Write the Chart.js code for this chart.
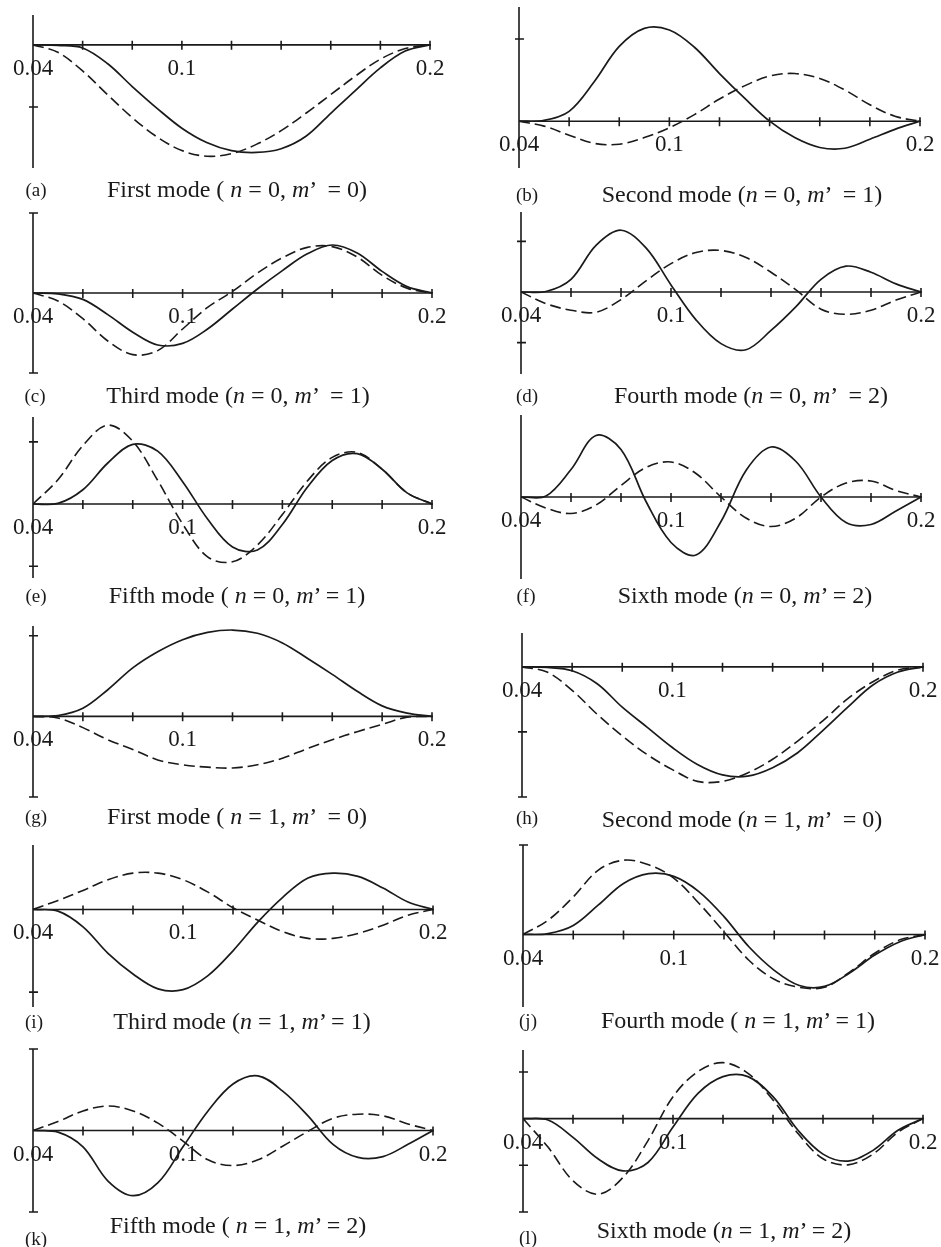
<!DOCTYPE html>
<html>
<head>
<meta charset="utf-8">
<script src="https://cdn.jsdelivr.net/npm/chart.js@4.4.1/dist/chart.umd.min.js"></script>
<style>
body { margin: 0; background: #fff; }
#page { position: relative; width: 941px; height: 1247px; overflow: hidden; font-family: 'Liberation Serif', 'Times New Roman', serif; color: #1a1a1a; }
#page canvas { position: absolute; }
.cap { position: absolute; font-size: 24px; white-space: pre; transform: translate(-50%, -50%); line-height: 1; }
.tag { position: absolute; font-size: 19px; white-space: pre; transform: translate(-50%, -50%); line-height: 1; }
</style>
</head>
<body>
<div id="page"></div>
<script>
// radial position (m) sampled every 0.01
var xValues = [0.04, 0.05, 0.06, 0.07, 0.08, 0.09, 0.10, 0.11, 0.12, 0.13, 0.14, 0.15, 0.16, 0.17, 0.18, 0.19, 0.20];
var xTickValues = [0.04, 0.06, 0.08, 0.10, 0.12, 0.14, 0.16, 0.18, 0.20];
var xTickLabels = ['0.04', '', '', '0.1', '', '', '', '', '0.2'];

// mode shapes: solid and dashed curve of each panel
var solidA  = [0, -0.01, -0.05, -0.3, -0.67, -1.02, -1.34, -1.57, -1.7, -1.73, -1.67, -1.47, -1.1, -0.73, -0.37, -0.1, 0];
var dashedA = [0, -0.12, -0.42, -0.8, -1.17, -1.48, -1.7, -1.79, -1.75, -1.6, -1.38, -1.1, -0.8, -0.5, -0.23, -0.06, 0];
var solidB  = [0, 0.01, 0.12, 0.48, 0.91, 1.13, 1.11, 0.9, 0.58, 0.28, 0.0, -0.2, -0.32, -0.33, -0.22, -0.1, 0];
var dashedB = [0, -0.06, -0.17, -0.27, -0.28, -0.2, -0.08, 0.08, 0.27, 0.43, 0.55, 0.58, 0.52, 0.38, 0.2, 0.06, 0];
var solidC  = [0, -0.01, -0.08, -0.27, -0.49, -0.65, -0.63, -0.45, -0.2, 0.05, 0.28, 0.49, 0.6, 0.5, 0.27, 0.08, 0];
var dashedC = [0, -0.1, -0.32, -0.6, -0.77, -0.72, -0.45, -0.18, 0.02, 0.25, 0.44, 0.57, 0.58, 0.45, 0.22, 0.06, 0];
var solidD  = [0, 0.01, 0.25, 0.92, 1.22, 0.87, 0.14, -0.55, -1.02, -1.14, -0.76, -0.29, 0.25, 0.51, 0.39, 0.16, 0];
var dashedD = [0, -0.23, -0.36, -0.4, -0.15, 0.22, 0.56, 0.78, 0.82, 0.68, 0.39, 0.04, -0.34, -0.44, -0.36, -0.16, 0];
var solidE  = [0, 0.01, 0.23, 0.66, 0.96, 0.85, 0.36, -0.24, -0.69, -0.74, -0.33, 0.27, 0.7, 0.81, 0.56, 0.18, 0];
var dashedE = [0, 0.39, 0.94, 1.27, 1.01, 0.38, -0.32, -0.85, -0.93, -0.66, -0.17, 0.37, 0.75, 0.83, 0.56, 0.18, 0];
var solidF  = [0, 0.02, 0.55, 1.23, 0.95, -0.09, -0.91, -1.16, -0.49, 0.53, 1.0, 0.71, 0.0, -0.51, -0.55, -0.28, 0];
var dashedF = [0, -0.22, -0.33, -0.16, 0.23, 0.59, 0.7, 0.47, 0, -0.42, -0.59, -0.42, 0, 0.28, 0.32, 0.13, 0];
var solidG  = [0, 0.01, 0.1, 0.33, 0.6, 0.8, 0.95, 1.04, 1.07, 1.03, 0.91, 0.72, 0.52, 0.31, 0.13, 0.04, 0];
var dashedG = [0, -0.02, -0.14, -0.29, -0.41, -0.54, -0.6, -0.63, -0.64, -0.6, -0.52, -0.4, -0.29, -0.19, -0.1, -0.01, 0];
var solidH  = [0, -0.01, -0.06, -0.26, -0.62, -0.93, -1.24, -1.5, -1.66, -1.68, -1.55, -1.32, -0.98, -0.62, -0.28, -0.08, 0];
var dashedH = [0, -0.08, -0.36, -0.73, -1.06, -1.35, -1.58, -1.76, -1.76, -1.63, -1.42, -1.14, -0.83, -0.49, -0.23, -0.05, 0];
var solidI  = [0, -0.02, -0.21, -0.53, -0.78, -0.96, -0.97, -0.8, -0.5, -0.15, 0.15, 0.38, 0.44, 0.4, 0.26, 0.09, 0];
var dashedI = [0, 0.11, 0.23, 0.36, 0.44, 0.44, 0.36, 0.21, 0.02, -0.13, -0.27, -0.35, -0.35, -0.29, -0.19, -0.07, 0];
var solidJ  = [0, 0.01, 0.1, 0.33, 0.57, 0.68, 0.65, 0.48, 0.2, -0.14, -0.4, -0.57, -0.58, -0.43, -0.23, -0.08, 0];
var dashedJ = [0, 0.16, 0.42, 0.72, 0.83, 0.78, 0.63, 0.35, 0.03, -0.29, -0.5, -0.59, -0.59, -0.42, -0.21, -0.06, 0];
var solidK  = [0, -0.02, -0.2, -0.62, -0.8, -0.64, -0.2, 0.24, 0.57, 0.67, 0.48, 0.18, -0.17, -0.33, -0.32, -0.17, 0];
var dashedK = [0, 0.11, 0.24, 0.3, 0.24, 0.09, -0.13, -0.36, -0.43, -0.36, -0.19, -0.01, 0.15, 0.2, 0.18, 0.08, 0];
var solidL  = [0, -0.03, -0.4, -0.86, -1.12, -0.94, -0.18, 0.54, 0.9, 0.9, 0.47, -0.25, -0.76, -0.91, -0.68, -0.25, 0];
var dashedL = [0, -0.61, -1.33, -1.62, -1.26, -0.47, 0.47, 1.01, 1.2, 0.97, 0.4, -0.32, -0.86, -0.99, -0.76, -0.29, 0];

var panelTags = ['(a)', '(b)', '(c)', '(d)', '(e)', '(f)', '(g)', '(h)', '(i)', '(j)', '(k)', '(l)'];
var panelTitles = [
    'First mode ( <i>n</i> = 0, <i>m</i>\u2019  = 0)',
    'Second mode (<i>n</i> = 0, <i>m</i>\u2019  = 1)',
    'Third mode (<i>n</i> = 0, <i>m</i>\u2019  = 1)',
    'Fourth mode (<i>n</i> = 0, <i>m</i>\u2019  = 2)',
    'Fifth mode ( <i>n</i> = 0, <i>m</i>\u2019 = 1)',
    'Sixth mode (<i>n</i> = 0, <i>m</i>\u2019 = 2)',
    'First mode ( <i>n</i> = 1, <i>m</i>\u2019  = 0)',
    'Second mode (<i>n</i> = 1, <i>m</i>\u2019  = 0)',
    'Third mode (<i>n</i> = 1, <i>m</i>\u2019 = 1)',
    'Fourth mode ( <i>n</i> = 1, <i>m</i>\u2019 = 1)',
    'Fifth mode ( <i>n</i> = 1, <i>m</i>\u2019 = 2)',
    'Sixth mode (<i>n</i> = 1, <i>m</i>\u2019 = 2)'
];

var ink = '#1a1a1a';
var pad = 40;

// layout of each small plot (plot area box, caption spots)
var panels = [
    {solid: solidA, dashed: dashedA, yMin: -1.98, yMax: 0.48, yTicks: [-1], left: 33, top: 15, w: 397, h: 153, capX: 237, capY: 189, tagX: 36, tagY: 189},
    {solid: solidB, dashed: dashedB, yMin: -0.57, yMax: 1.39, yTicks: [1], left: 519, top: 7, w: 401, h: 161, capX: 742, capY: 194, tagX: 527, tagY: 194},
    {solid: solidC, dashed: dashedC, yMin: -1, yMax: 1, yTicks: [-1, 1], left: 33, top: 213, w: 399, h: 160, capX: 238, capY: 395, tagX: 35, tagY: 395},
    {solid: solidD, dashed: dashedD, yMin: -1.62, yMax: 1.58, yTicks: [-1, 1], left: 521, top: 212, w: 400, h: 162, capX: 751, capY: 395, tagX: 527, tagY: 395},
    {solid: solidE, dashed: dashedE, yMin: -1.19, yMax: 1.4, yTicks: [-1, 1], left: 33, top: 417, w: 399, h: 161, capX: 237, capY: 595, tagX: 36, tagY: 595},
    {solid: solidF, dashed: dashedF, yMin: -1.64, yMax: 1.64, yTicks: [], left: 521, top: 415, w: 400, h: 164, capX: 745, capY: 595, tagX: 526, tagY: 595},
    {solid: solidG, dashed: dashedG, yMin: -1, yMax: 1.12, yTicks: [-1, 1], left: 33, top: 626, w: 399, h: 171, capX: 237, capY: 816, tagX: 36, tagY: 816},
    {solid: solidH, dashed: dashedH, yMin: -2, yMax: 0.52, yTicks: [-1, -2], left: 522, top: 633, w: 401, h: 164, capX: 742, capY: 819, tagX: 527, tagY: 817},
    {solid: solidI, dashed: dashedI, yMin: -1.18, yMax: 0.78, yTicks: [-1], left: 33, top: 845, w: 400, h: 162, capX: 242, capY: 1021, tagX: 34, tagY: 1021},
    {solid: solidJ, dashed: dashedJ, yMin: -0.81, yMax: 1, yTicks: [1], left: 523, top: 845, w: 402, h: 162, capX: 738, capY: 1020, tagX: 528, tagY: 1020},
    {solid: solidK, dashed: dashedK, yMin: -1, yMax: 1, yTicks: [-1, 1], left: 33, top: 1049, w: 400, h: 163, capX: 238, capY: 1225, tagX: 36, tagY: 1238},
    {solid: solidL, dashed: dashedL, yMin: -2, yMax: 1.47, yTicks: [1, -1, -2], left: 523, top: 1050, w: 400, h: 162, capX: 724, capY: 1230, tagX: 528, tagY: 1237}
];

// axes crossing at y = 0, ticks through the line, as in the printed figure
var crossAxes = {
    id: 'crossAxes',
    afterDatasetsDraw: function (chart, args, opts) {
        var ctx = chart.ctx;
        var x = chart.scales.x, y = chart.scales.y;
        var x0 = x.getPixelForValue(x.min), x1 = x.getPixelForValue(x.max);
        var yZero = y.getPixelForValue(0);

        ctx.save();
        ctx.strokeStyle = ink;
        ctx.lineWidth = 1.6;
        ctx.beginPath();
        ctx.moveTo(x0, yZero);
        ctx.lineTo(x1 + 1, yZero);
        ctx.moveTo(x0, y.getPixelForValue(y.max));
        ctx.lineTo(x0, y.getPixelForValue(y.min));
        xTickValues.forEach(function (v) {
            var px = x.getPixelForValue(v);
            ctx.moveTo(px, yZero - 4);
            ctx.lineTo(px, yZero + 5);
        });
        opts.yTicks.forEach(function (v) {
            var py = y.getPixelForValue(v);
            ctx.moveTo(x0 - 4, py);
            ctx.lineTo(x0 + 5, py);
        });
        ctx.stroke();

        ctx.fillStyle = ink;
        ctx.font = "23px 'Liberation Serif'";
        ctx.textAlign = 'center';
        ctx.textBaseline = 'alphabetic';
        xTickValues.forEach(function (v, i) {
            if (xTickLabels[i]) ctx.fillText(xTickLabels[i], x.getPixelForValue(v), yZero + 30);
        });
        ctx.restore();
    }
};

function toPoints(series) {
    return xValues.map(function (xv, i) { return {x: xv, y: series[i]}; });
}

var page = document.getElementById('page');

panels.forEach(function (p, k) {
    var canvas = document.createElement('canvas');
    canvas.width = p.w + 2 * pad;
    canvas.height = p.h + 2 * pad;
    canvas.style.left = (p.left - pad) + 'px';
    canvas.style.top = (p.top - pad) + 'px';
    page.appendChild(canvas);

    new Chart(canvas, {
        type: 'line',
        data: {
            datasets: [{
                data: toPoints(p.solid),
                borderColor: ink,
                borderWidth: 1.7,
                pointRadius: 0,
                tension: 0.35,
                fill: false
            }, {
                data: toPoints(p.dashed),
                borderColor: ink,
                borderWidth: 1.6,
                borderDash: [11, 5],
                pointRadius: 0,
                tension: 0.35,
                fill: false
            }]
        },
        options: {
            responsive: false,
            animation: false,
            events: [],
            layout: { padding: pad },
            scales: {
                x: { type: 'linear', min: 0.04, max: 0.2, display: false },
                y: { min: p.yMin, max: p.yMax, display: false }
            },
            plugins: {
                legend: { display: false },
                tooltip: { enabled: false },
                crossAxes: { yTicks: p.yTicks }
            }
        },
        plugins: [crossAxes]
    });

    var tag = document.createElement('div');
    tag.className = 'tag';
    tag.style.left = p.tagX + 'px';
    tag.style.top = p.tagY + 'px';
    tag.textContent = panelTags[k];
    page.appendChild(tag);

    var cap = document.createElement('div');
    cap.className = 'cap';
    cap.style.left = p.capX + 'px';
    cap.style.top = p.capY + 'px';
    cap.innerHTML = panelTitles[k];
    page.appendChild(cap);
});
</script>
</body>
</html>
